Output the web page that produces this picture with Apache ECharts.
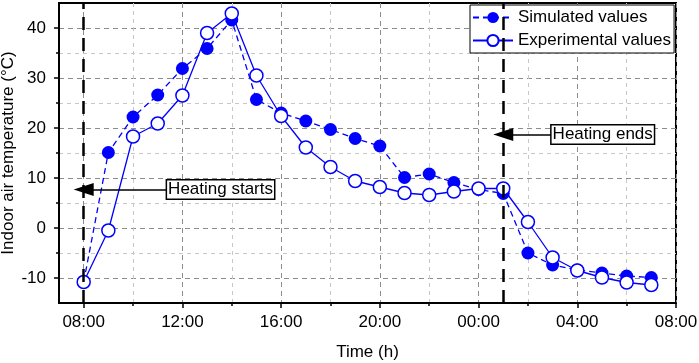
<!DOCTYPE html>
<html>
<head>
<meta charset="utf-8">
<script src="https://cdn.jsdelivr.net/npm/echarts@6/dist/echarts.min.js"></script>
<style>
  html, body { margin: 0; padding: 0; background: #fff; }
  #chart { width: 699px; height: 363px; }
</style>
</head>
<body>
<div id="chart"></div>
<script>
// hours since midnight of the first day (24 = 00:00 next day)
var hours = [8, 9, 10, 11, 12, 13, 14, 15, 16, 17, 18, 19, 20, 21, 22, 23, 24, 25, 26, 27, 28, 29, 30, 31];
var simulated = [-10.8, 15.1, 22.2, 26.6, 31.9, 35.9, 41.6, 25.7, 23.0, 21.4, 19.7, 17.9, 16.4, 10.1, 10.8, 9.1, 7.7, 6.9, -5.0, -7.4, -8.4, -9.0, -9.6, -9.9];
var experimental = [-10.8, -0.5, 18.3, 20.9, 26.5, 39.0, 42.9, 30.5, 22.4, 16.1, 12.2, 9.4, 8.2, 7.0, 6.6, 7.3, 7.9, 7.9, 1.2, -5.9, -8.5, -9.9, -10.9, -11.4];

var xMajor = [8, 12, 16, 20, 24, 28, 32];
var xMinor = [10, 14, 18, 22, 26, 30];
var yMajor = [-10, 0, 10, 20, 30, 40];
var yMinor = [-5, 5, 15, 25, 35];

var heatStart = 8;   // 08:00
var heatEnd = 25;    // 01:00
var startNote = ['Heating starts', 11.38, 7.7];
var endNote = ['Heating ends', 26.96, 18.7];

function pairs(xs, ys) {
    var out = [];
    for (var i = 0; i < xs.length; i++) out.push([xs[i], ys[i]]);
    return out;
}

function drawChart() {
    var myChart = echarts.init(document.getElementById('chart'));
    var font = 'Liberation Sans';
    var blue = '#0000ff';

    var option = {
        animation: false,
        textStyle: { fontFamily: font },
        grid: {
            left: 59, right: 23, top: 3, bottom: 60,
            outerBoundsMode: 'none',
            containLabel: false,
            show: true, borderColor: '#000', borderWidth: 2
        },
        legend: {
            orient: 'vertical',
            left: 470, top: 5,
            data: ['Simulated values', 'Experimental values'],
            itemWidth: 40, itemHeight: 14, itemGap: 4,
            padding: [3, 3, 3, 2],
            backgroundColor: '#fff',
            borderColor: '#000', borderWidth: 1,
            textStyle: { fontSize: 17, lineHeight: 19, color: '#000', fontFamily: font }
        },
        xAxis: [
            {
                type: 'value', min: 7, max: 32, position: 'bottom',
                name: 'Time (h)', nameLocation: 'middle', nameGap: 41, nameMoveOverlap: false,
                nameTextStyle: { fontSize: 17, color: '#000', fontFamily: font },
                axisLine: { onZero: false, lineStyle: { color: '#000', width: 2 } },
                axisTick: { customValues: xMajor, length: 5, lineStyle: { color: '#000', width: 1.5 } },
                axisLabel: {
                    customValues: xMajor, margin: 11, fontSize: 17, color: '#000', fontFamily: font,
                    formatter: function (v) {
                        var h = v % 24;
                        return (h < 10 ? '0' : '') + h + ':00';
                    }
                },
                splitLine: { show: true, lineStyle: { color: '#8c8c8c', width: 1, type: [5, 4] } }
            },
            {
                type: 'value', min: 7, max: 32, position: 'bottom',
                axisLine: { show: false, onZero: false },
                axisTick: { customValues: xMinor, length: 3, lineStyle: { color: '#000', width: 1.5 } },
                axisLabel: { show: false },
                splitLine: { show: true, lineStyle: { color: '#c8c8c8', width: 1, type: [4, 4] } }
            }
        ],
        yAxis: [
            {
                type: 'value', min: -15, max: 45, position: 'left',
                name: 'Indoor air temperature (°C)', nameLocation: 'middle', nameGap: 42, nameMoveOverlap: false,
                nameTextStyle: { fontSize: 17, color: '#000', fontFamily: font },
                axisLine: { show: true, onZero: false, lineStyle: { color: '#000', width: 2 } },
                axisTick: { show: true, customValues: yMajor, length: 5, lineStyle: { color: '#000', width: 1.5 } },
                axisLabel: { customValues: yMajor, margin: 13, fontSize: 17, color: '#000', fontFamily: font },
                splitLine: { show: true, lineStyle: { color: '#8c8c8c', width: 1, type: [5, 4] } }
            },
            {
                type: 'value', min: -15, max: 45, position: 'left',
                axisLine: { show: false, onZero: false },
                axisTick: { show: true, customValues: yMinor, length: 3, lineStyle: { color: '#000', width: 1.5 } },
                axisLabel: { show: false },
                splitLine: { show: true, lineStyle: { color: '#c8c8c8', width: 1, type: [4, 4] } }
            }
        ],
        series: [
            {
                name: 'annotations',
                type: 'line',
                data: [],
                z: 1,
                markLine: {
                    silent: true,
                    symbol: ['none', 'none'],
                    label: { show: false },
                    data: [
                        { xAxis: heatStart, lineStyle: { color: '#000', width: 2.5, type: [13, 8] } },
                        { xAxis: heatEnd, lineStyle: { color: '#000', width: 2.5, type: [13, 8] } },
                        [
                            { coord: [startNote[1], startNote[2]], symbol: 'none', lineStyle: { color: '#000', width: 1.5, type: 'solid' } },
                            { coord: [heatStart, startNote[2]], symbol: 'triangle', symbolSize: [13, 20] }
                        ],
                        [
                            { coord: [endNote[1], endNote[2]], symbol: 'none', lineStyle: { color: '#000', width: 1.5, type: 'solid' } },
                            { coord: [heatEnd, endNote[2]], symbol: 'triangle', symbolSize: [13, 20] }
                        ]
                    ]
                },
                markPoint: {
                    silent: true,
                    symbol: 'rect',
                    symbolSize: 0,
                    label: {
                        show: true, position: 'right', distance: 0,
                        formatter: '{b}', fontSize: 17, color: '#000', fontFamily: font,
                        backgroundColor: '#fff', borderColor: '#000', borderWidth: 1.5,
                        padding: [1, 1, 0, 1]
                    },
                    data: [
                        { name: startNote[0], coord: [startNote[1], startNote[2]] },
                        { name: endNote[0], coord: [endNote[1], endNote[2]] }
                    ]
                }
            },
            {
                name: 'Simulated values',
                type: 'line',
                data: pairs(hours, simulated),
                symbol: 'circle',
                symbolSize: 13,
                itemStyle: { color: blue },
                lineStyle: { color: blue, width: 1.3, type: [6, 4] }
            },
            {
                name: 'Experimental values',
                type: 'line',
                data: pairs(hours, experimental),
                symbol: 'circle',
                symbolSize: 13,
                itemStyle: { color: '#fff', borderColor: blue, borderWidth: 1.5 },
                lineStyle: { color: blue, width: 1.3, type: 'solid' }
            }
        ]
    };
    myChart.setOption(option);
}

drawChart();
</script>
</body>
</html>
